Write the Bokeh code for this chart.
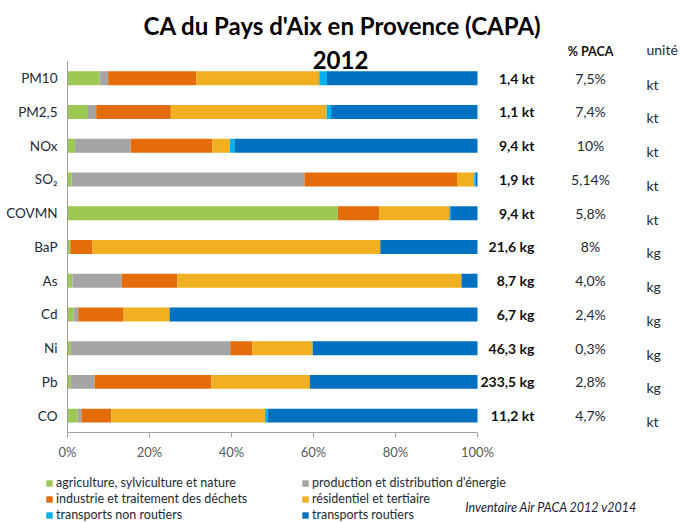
from bokeh.plotting import figure
from bokeh.layouts import column
from bokeh.models import (ColumnDataSource, Range1d, FixedTicker,
                          PrintfTickFormatter, LabelSet, Label, Legend, LegendItem)
from bokeh.core.properties import value
from bokeh.embed import file_html
from bokeh.resources import INLINE

# ---------------- data ----------------
pollutants = ["PM10", "PM2,5", "NOx", "SO₂", "COVMN", "BaP", "As", "Cd", "Ni", "Pb", "CO"]
totals = ["1,4 kt", "1,1 kt", "9,4 kt", "1,9 kt", "9,4 kt", "21,6 kg", "8,7 kg",
          "6,7 kg", "46,3 kg", "233,5 kg", "11,2 kt"]
pct_paca = ["7,5%", "7,4%", "10%", "5,14%", "5,8%", "8%", "4,0%", "2,4%", "0,3%", "2,8%", "4,7%"]
units = ["kt", "kt", "kt", "kt", "kt", "kg", "kg", "kg", "kg", "kg", "kt"]

sectors = ["agri", "energie", "industrie", "residentiel", "non_routiers", "routiers"]
sector_labels = ["agriculture, sylviculture et nature",
                 "production et distribution d'énergie",
                 "industrie et traitement des déchets",
                 "résidentiel et tertiaire",
                 "transports non routiers",
                 "transports routiers"]
agri = [7.8, 5.0, 1.8, 1.0, 65.9, 0.7, 1.2, 1.5, 0.7, 0.7, 2.5]
energie = [2.1, 2.0, 13.6, 56.8, 0.0, 0.0, 12.0, 1.1, 39.0, 5.9, 0.9]
industrie = [21.5, 18.2, 19.9, 37.2, 10.1, 5.4, 13.6, 11.1, 5.4, 28.5, 7.3]
residentiel = [30.0, 38.0, 4.3, 4.2, 17.1, 70.2, 69.3, 11.2, 14.7, 24.0, 37.5]
non_routiers = [1.9, 1.1, 1.1, 0.3, 0.3, 0.0, 0.0, 0.0, 0.0, 0.0, 0.6]
routiers = [36.7, 35.7, 59.3, 0.5, 6.6, 23.7, 3.9, 75.1, 40.2, 40.9, 51.2]
x_ticks = [0, 20, 40, 60, 80, 100]

title_line1 = "CA du Pays d'Aix en Provence (CAPA)"
title_line2 = "2012"
header_pct = "% PACA"
header_unit = "unité"
source_text = "Inventaire Air PACA 2012 v2014"

colors = ["#9DC853", "#A5A5A5", "#E46C0A", "#F0B021", "#00B0F0", "#0070C0"]

FONT = "Lato"
TXT = "#222a35"

n = len(pollutants)
ypos = list(range(n))

src = ColumnDataSource(dict(y=ypos, pollutant=pollutants, agri=agri, energie=energie,
                            industrie=industrie, residentiel=residentiel,
                            non_routiers=non_routiers, routiers=routiers,
                            totals=totals, pct=pct_paca, units=units))

# ---------------- main chart ----------------
W = 684
left = 67
frame_w, frame_h = W - left, 433
row_px = 372 / n          # pixel height of one category band
px_per_pct = 4.1

p = figure(width=W, height=462, output_backend="svg", toolbar_location=None,
           x_range=Range1d(0, frame_w / px_per_pct),
           y_range=Range1d(n - 0.5, n - 0.5 - frame_h / row_px),
           min_border_left=left, min_border_right=0, min_border_top=0,
           min_border_bottom=29, frame_align=False)
p.outline_line_color = None
p.xgrid.visible = False
p.ygrid.visible = False

renderers = p.hbar_stack(sectors, y="y", height=0.414, color=colors,
                         line_color=None, source=src)

p.xaxis.ticker = FixedTicker(ticks=x_ticks)
p.xaxis.bounds = (0, 100)
p.xaxis.formatter = PrintfTickFormatter(format="%d%%")
p.xaxis.axis_line_color = "#A0A0A0"
p.xaxis.major_tick_line_color = "#A0A0A0"
p.xaxis.major_tick_out = 5
p.xaxis.major_tick_in = 0
p.xaxis.minor_tick_line_color = None
p.xaxis.major_label_text_font = FONT
p.xaxis.major_label_text_font_size = "13px"
p.xaxis.major_label_text_color = "#595959"
p.xaxis.major_label_standoff = 6

p.yaxis.ticker = FixedTicker(ticks=ypos)
p.yaxis.major_label_overrides = {i: name for i, name in zip(ypos, pollutants)}
p.yaxis.bounds = (-0.5, n - 0.5)
p.yaxis.axis_line_color = "#A0A0A0"
p.yaxis.major_tick_line_color = None
p.yaxis.minor_tick_line_color = None
p.yaxis.major_label_text_font = FONT
p.yaxis.major_label_text_font_size = "13.5px"
p.yaxis.major_label_text_color = TXT
p.yaxis.major_label_standoff = 4

# value columns (screen x relative to the plotting frame)
p.add_layout(LabelSet(x=467, y="y", x_units="screen", text="totals", source=src,
                      text_align="right", text_baseline="middle",
                      text_font=value(FONT), text_font_size="14px",
                      text_font_style="bold", text_color="#111111"))
p.add_layout(LabelSet(x=523, y="y", x_units="screen", text="pct", source=src,
                      text_align="center", text_baseline="middle",
                      text_font=value(FONT), text_font_size="14px", text_color=TXT))
p.add_layout(LabelSet(x=579, y="y", x_units="screen", text="units", source=src,
                      text_align="left", text_baseline="middle", y_offset=-6,
                      text_font=value(FONT), text_font_size="14px", text_color=TXT))


def lab(fig, text, x, y, size, style="normal", align="center", color="#000000"):
    fig.add_layout(Label(x=x, y=y, x_units="screen", y_units="screen", text=text,
                         text_font=FONT, text_font_size=size, text_font_style=style,
                         text_align=align, text_baseline="middle", text_color=color))


lab(p, title_line1, 275, 407, "24px", "bold")
lab(p, title_line2, 273, 373, "24px", "bold")
lab(p, header_pct, 523, 381, "12.5px", "bold", "center", "#111111")
lab(p, header_unit, 579, 383, "14px", "normal", "left", TXT)

# ---------------- legend strip ----------------
q = figure(width=W, height=60, output_backend="svg", toolbar_location=None,
           x_range=Range1d(-5000, -5000 + W), y_range=Range1d(-5000, -4940),
           x_axis_location=None, y_axis_location=None, frame_align=False,
           min_border_left=0, min_border_right=0, min_border_top=0, min_border_bottom=0)
q.outline_line_color = None
q.xgrid.visible = False
q.ygrid.visible = False

# same stacked series, far outside this strip's visible range: they only supply legend swatches
swatches = q.hbar_stack(sectors, y="y", height=0.414, color=colors,
                        line_color=None, source=src)


def mk_legend(idx, x):
    items = [LegendItem(label=sector_labels[i], renderers=[swatches[i]]) for i in idx]
    lg = Legend(items=items, location=(x, 0), orientation="vertical",
                glyph_width=8, glyph_height=8, label_standoff=3,
                label_text_font=FONT, label_text_font_size="12.5px",
                label_text_color=TXT, label_height=12, spacing=1,
                padding=0, margin=0, border_line_alpha=0, background_fill_alpha=0)
    q.add_layout(lg, "center")


mk_legend([0, 2, 4], 45)
mk_legend([1, 3, 5], 301)

lab(q, source_text, 637, 15, "12.5px", "italic", "right", "#1a1a2e")

layout = column(p, q, spacing=0)
open("out.html", "w").write(file_html(layout, INLINE))
